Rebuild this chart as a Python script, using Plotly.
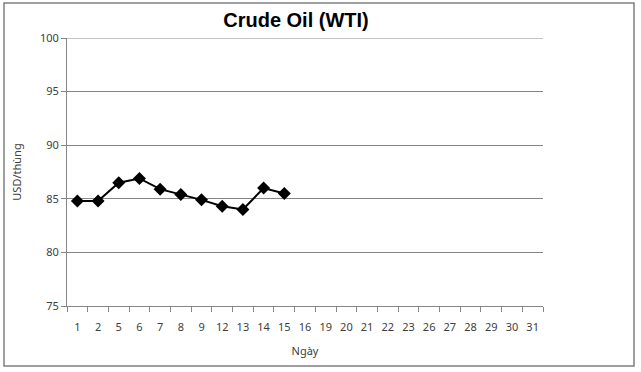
import plotly.graph_objects as go

days = ["1", "2", "5", "6", "7", "8", "9", "12", "13", "14", "15", "16", "19", "20",
        "21", "22", "23", "26", "27", "28", "29", "30", "31"]
prices = [84.8, 84.8, 86.5, 86.9, 85.9, 85.4, 84.9, 84.3, 84.0, 86.0, 85.5]
y_max = 100

title_text = "Crude Oil (WTI)"
x_title = "Ngày"
y_title = "USD/thùng"

W, H = 641, 372
ml, mr, mt, mb = 67, 98, 38, 66

fig = go.Figure()
fig.add_trace(go.Scatter(
    x=days[:len(prices)], y=prices, mode="lines+markers",
    line=dict(color="black", width=2),
    marker=dict(symbol="diamond", size=10, color="black"),
    showlegend=False, hoverinfo="skip"))

tick_font = dict(family="Noto Sans, DejaVu Sans, sans-serif", size=11, color="#404040")

fig.update_layout(
    width=W, height=H,
    margin=dict(l=ml, r=mr, t=mt, b=mb),
    paper_bgcolor="white", plot_bgcolor="white",
    title=dict(text="<b>" + title_text + "</b>", x=296 / W, xanchor="center",
               y=1 - 20 / H, yanchor="middle",
               font=dict(family="Liberation Sans, Arial, sans-serif", size=20, color="black")),
    xaxis=dict(type="category", categoryorder="array", categoryarray=days,
               tickvals=days, ticktext=days, tickangle=0,
               range=[-0.5, len(days) - 0.5],
               showline=True, linecolor="#868686", linewidth=1,
               ticks="outside", tickson="boundaries", ticklen=5, tickcolor="#868686",
               showgrid=False, tickfont=tick_font, ticklabelstandoff=11,
               title=dict(text=x_title, font=tick_font, standoff=14)),
    yaxis=dict(range=[75, y_max], dtick=5, tick0=75,
               showline=True, linecolor="#868686", linewidth=1,
               ticks="outside", ticklen=5, tickcolor="#868686",
               showgrid=True, gridcolor="#868686", gridwidth=1,
               zeroline=False, tickfont=tick_font,
               title=dict(text=y_title, font=tick_font, standoff=16)),
    shapes=[dict(type="rect", xref="paper", yref="paper",
                 x0=(4 - ml) / (W - ml - mr), x1=(634 - ml) / (W - ml - mr),
                 y0=(H - mb - 366) / (H - mt - mb), y1=(H - mb - 3) / (H - mt - mb),
                 line=dict(color="#808080", width=1.5), layer="below"),
            dict(type="line", xref="paper", yref="y", x0=0, x1=1, y0=y_max, y1=y_max,
                 line=dict(color="#868686", width=1), layer="below")],
)

fig.write_html("out.html")
